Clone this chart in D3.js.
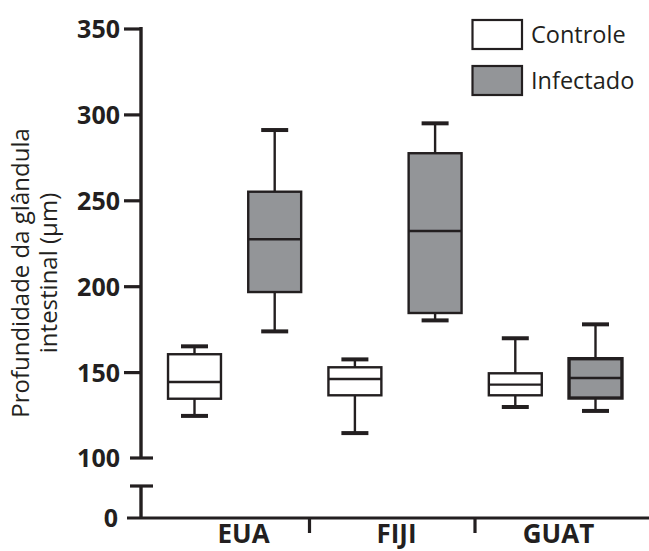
<!DOCTYPE html>
<html>
<head>
<meta charset="utf-8">
<script src="https://cdn.jsdelivr.net/npm/d3@7"></script>
<style>
  html, body { margin: 0; padding: 0; background: #fff; }
  svg { display: block; }
</style>
</head>
<body>
<svg id="chart" width="649" height="551"></svg>
<script>
// ---- data ----
const countries = ["EUA", "FIJI", "GUAT"];
const groups = ["Controle", "Infectado"];
// [min, q1, median, q3, max] per country, per group
const controleStats = [
  [124.5, 134.5, 144.2, 160.4, 165.0],
  [114.5, 136.5, 146.0, 152.8, 157.4],
  [129.7, 136.5, 142.7, 149.3, 169.7]
];
const infectadoStats = [
  [173.7, 196.6, 227.3, 255.0, 290.9],
  [180.1, 184.4, 232.1, 277.4, 294.8],
  [127.4, 134.9, 146.6, 157.8, 177.8]
];
const yTicks = [100, 150, 200, 250, 300, 350];
const yLowTicks = [0];
const yLabelLines = ["Profundidade da glândula", "intestinal (µm)"];

// ---- layout ----
const svg = d3.select("#chart");
const ink = "#231f20";
const grayFill = "#939598";
const axisX = 141;

const yTop = d3.scaleLinear().domain([100, 350]).range([458, 28.5]);
const yLow = d3.scaleLinear().domain([0, 18.6]).range([518, 486]);

const boxes = [];
countries.forEach((c, i) => {
  boxes.push({ key: c + "-C", country: c, group: "Controle", s: controleStats[i] });
  boxes.push({ key: c + "-I", country: c, group: "Infectado", s: infectadoStats[i] });
});
const xBox = d3.scaleBand().domain(boxes.map(d => d.key)).range([154.4, 635.6]).paddingInner(0.34).paddingOuter(0.17);

const fontTick = "'Open Sans', 'DejaVu Sans', sans-serif";

// ---- upper y axis ----
const gTop = svg.append("g").attr("transform", `translate(${axisX},0)`)
  .call(d3.axisLeft(yTop).tickValues(yTicks.filter(t => t > 100)).tickSize(17).tickPadding(4).tickSizeOuter(0));
gTop.select(".domain").remove();
gTop.selectAll(".tick line").attr("stroke", ink).attr("stroke-width", 3.2);
gTop.selectAll(".tick text").attr("fill", ink).style("font", `700 25px ${fontTick}`).attr("dy", "0.36em");
svg.append("line").attr("x1", axisX).attr("x2", axisX).attr("y1", yTop(350) - 1.5).attr("y2", yTop(100))
  .attr("stroke", ink).attr("stroke-width", 3.4);
// 100 cap (break)
svg.append("line").attr("x1", 130).attr("x2", 153).attr("y1", yTop(100)).attr("y2", yTop(100))
  .attr("stroke", ink).attr("stroke-width", 3.2);
svg.append("text").attr("x", 120).attr("y", yTop(100)).attr("dy", "0.36em").attr("text-anchor", "end")
  .attr("fill", ink).style("font", `700 25px ${fontTick}`).text(yTicks[0]);

// ---- lower y axis ----
svg.append("line").attr("x1", axisX).attr("x2", axisX).attr("y1", yLow.range()[1]).attr("y2", yLow(0))
  .attr("stroke", ink).attr("stroke-width", 3.4);
svg.append("line").attr("x1", 130).attr("x2", 153).attr("y1", yLow.range()[1]).attr("y2", yLow.range()[1])
  .attr("stroke", ink).attr("stroke-width", 3.2);
yLowTicks.forEach(t => {
  svg.append("text").attr("x", 118).attr("y", yLow(t)).attr("dy", "0.36em").attr("text-anchor", "end")
    .attr("fill", ink).style("font", `700 25px ${fontTick}`).text(t);
});

// ---- x axis ----
svg.append("line").attr("x1", 127).attr("x2", 649).attr("y1", yLow(0)).attr("y2", yLow(0))
  .attr("stroke", ink).attr("stroke-width", 3.2);
const sepX = [309.5, 475];
sepX.forEach(x => {
  svg.append("line").attr("x1", x).attr("x2", x).attr("y1", yLow(0)).attr("y2", 533)
    .attr("stroke", ink).attr("stroke-width", 3.2);
});
const labelX = { EUA: 243.5, FIJI: 396.5, GUAT: 558.5 };
countries.forEach(c => {
  svg.append("text").attr("x", labelX[c]).attr("y", 543).attr("text-anchor", "middle")
    .attr("fill", ink).style("font", `700 26px ${fontTick}`).text(c);
});

// ---- boxes ----
const capW = 27;
const gB = svg.append("g");
boxes.forEach(b => {
  const x0 = xBox(b.key), w = xBox.bandwidth(), cx = x0 + w / 2;
  const [mn, q1, md, q3, mx] = b.s;
  const infected = b.group === "Infectado";
  const sw = (b.country === "GUAT" && infected) ? 3.4 : 2.4;
  const g = gB.append("g");
  g.append("line").attr("x1", cx).attr("x2", cx).attr("y1", yTop(mx)).attr("y2", yTop(q3))
    .attr("stroke", ink).attr("stroke-width", 2.4);
  g.append("line").attr("x1", cx).attr("x2", cx).attr("y1", yTop(q1)).attr("y2", yTop(mn))
    .attr("stroke", ink).attr("stroke-width", 2.4);
  [mn, mx].forEach(v => {
    g.append("line").attr("x1", cx - capW / 2).attr("x2", cx + capW / 2).attr("y1", yTop(v)).attr("y2", yTop(v))
      .attr("stroke", ink).attr("stroke-width", 4);
  });
  g.append("rect").attr("x", x0).attr("y", yTop(q3)).attr("width", w).attr("height", yTop(q1) - yTop(q3))
    .attr("fill", infected ? grayFill : "#fff").attr("stroke", ink).attr("stroke-width", sw);
  g.append("line").attr("x1", x0).attr("x2", x0 + w).attr("y1", yTop(md)).attr("y2", yTop(md))
    .attr("stroke", ink).attr("stroke-width", 2.4);
});

// ---- legend ----
const fontText = "'Open Sans', 'DejaVu Sans', sans-serif";
const legend = svg.append("g");
groups.forEach((gname, i) => {
  const yy = 20 + i * 46;
  legend.append("rect").attr("x", 472.5).attr("y", yy).attr("width", 49.5).attr("height", 29)
    .attr("fill", gname === "Infectado" ? grayFill : "#fff").attr("stroke", ink).attr("stroke-width", 2.2);
  legend.append("text").attr("x", 531).attr("y", yy + 14.5).attr("dy", "0.36em")
    .attr("fill", ink).style("font", `400 23.5px ${fontText}`).text(gname);
});

// ---- y label ----
const yl = svg.append("g").attr("transform", "translate(0,273) rotate(-90)");
yLabelLines.forEach((t, i) => {
  yl.append("text").attr("x", 0).attr("y", 29 + i * 28).attr("text-anchor", "middle")
    .attr("fill", ink).style("font", `400 24px ${fontText}`).text(t);
});
</script>
</body>
</html>
